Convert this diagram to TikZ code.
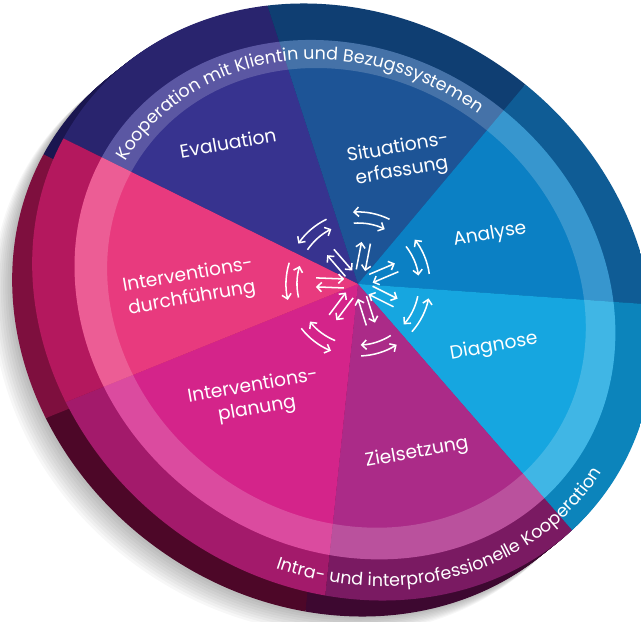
\documentclass[tikz,border=0pt]{standalone}
\usepackage{fontspec}
\setmainfont{Poppins}
\usepackage{tikz}
\usetikzlibrary{arrows.meta,decorations.text,calc}

% segment colours: face, outer ring, side wall
\definecolor{seg1}{HTML}{37338F}
\definecolor{seg2}{HTML}{1D5496}
\definecolor{seg3}{HTML}{0B80C4}
\definecolor{seg4}{HTML}{16A6E0}
\definecolor{seg5}{HTML}{AB2B88}
\definecolor{seg6}{HTML}{D4248A}
\definecolor{seg7}{HTML}{E83A7E}
\definecolor{oseg1}{HTML}{29246E}
\definecolor{oseg2}{HTML}{0F3E72}
\definecolor{oseg3}{HTML}{0F5C95}
\definecolor{oseg4}{HTML}{0C84BB}
\definecolor{oseg5}{HTML}{7A1A62}
\definecolor{oseg6}{HTML}{A31A6B}
\definecolor{oseg7}{HTML}{B4185E}
\definecolor{wseg1}{HTML}{1A1650}
\definecolor{wseg2}{HTML}{0A2D55}
\definecolor{wseg3}{HTML}{0A4A7A}
\definecolor{wseg4}{HTML}{0A6A98}
\definecolor{wseg5}{HTML}{3D0830}
\definecolor{wseg6}{HTML}{4D0728}
\definecolor{wseg7}{HTML}{7E0F3E}

% ring of the tilted disc, #1 = 1 is the rim of the face
\newcommand{\ringat}[1]{({358-15*#1},{284+18*#1}) ellipse [x radius={324.4*#1}, y radius={283.7*#1}, rotate=-36.2]}
% wedge from a centre point between two angles
\newcommand{\wedgeat}[3]{(#1) -- +(#2:900) -- +(#3:900) -- cycle}
\newcommand{\segments}{-153.7/-108/1, -108/-50/2, -50/4/3, 4/49/4, 49/96/5, 96/158/6, 158/206.3/7}

\begin{document}
\begin{tikzpicture}[
  x=0.03cm, y=-0.03cm,
  seglabel/.style={text=white, align=center, font=\fontsize{16}{20}\selectfont, rotate=10},
  arr/.style={white, line width=1.3pt, -{Straight Barb[length=4pt, width=8pt]}}
]
\useasboundingbox (0,0) rectangle (641,622);
\clip (0,0) rectangle (641,622);
\fill[white] (0,0) rectangle (641,622);

% Shadow
\foreach \k in {1,...,10}
  \fill[black, opacity=0.03, shift={({-18-2.2*\k},{14+2*\k})}] \ringat{1};

% Side wall
\foreach \k in {1,...,14} {
  \begin{scope}[shift={({-20*\k/14},{16*\k/14})}]
    \clip \ringat{1};
    \foreach \a/\b/\n in \segments
      \fill[fill=wseg\n] \wedgeat{358,284}{\a}{\b};
  \end{scope}
}

% Face
\coordinate (hub) at (358,284);
\begin{scope}
  \clip \ringat{1};
  \foreach \a/\b/\n in \segments
    \fill[fill=oseg\n] \wedgeat{hub}{\a}{\b};
\end{scope}
\begin{scope}
  \clip \ringat{0.87};
  \foreach \a/\b/\n in \segments
    \fill[fill=seg\n] \wedgeat{hub}{\a}{\b};
\end{scope}
\fill[white, opacity=0.18, even odd rule] \ringat{0.87} \ringat{0.77};

% Ring texts
\path[decorate, decoration={text along path, text align=center,
    text={|\fontsize{15}{15}\selectfont\color{white}|Kooperation mit Klientin und Bezugssystemen}}]
  plot[domain=151:291, samples=60, smooth, variable=\t]
  ({346+209.4*cos(\t)-134.1*sin(\t)}, {298.4+153.3*cos(\t)+183.2*sin(\t)});
\path[decorate, decoration={text along path, text align=center,
    text={|\fontsize{15}{15}\selectfont\color{white}|Intra- und interprofessionelle Kooperation}}]
  plot[domain=-90:25, samples=60, smooth, variable=\t]
  ({343.7+250*cos(\t)+160*sin(\t)}, {301.2+183*cos(\t)-218.6*sin(\t)});

% Segment labels
\node[seglabel] (eval) at (228,143) {Evaluation};
\node[seglabel] (situ) at (400,160) {Situations-\\erfassung};
\node[seglabel] (anal) at (490,235) {Analyse};
\node[seglabel] (diag) at (494,347) {Diagnose};
\node[seglabel] (ziel) at (417,453) {Zielsetzung};
\node[seglabel] (plan) at (255,398) {Interventions-\\planung};
\node[seglabel] (durc) at (190,287) {Interventions-\\durchführung};

% Arrow pairs round the hub
\foreach \m in {-130.9,-79,-23,26.5,72.5,127,182.2} {
  \begin{scope}[shift={(hub)}, rotate={-1*(\m)}]
    \draw[arr] (-15:61) arc[start angle=-15, end angle=15, radius=61];
    \draw[arr] (15:72) arc[start angle=15, end angle=-15, radius=72];
    \draw[arr] (14,-4.5) -- (42,-4.5);
    \draw[arr] (42,4.5) -- (14,4.5);
  \end{scope}
}
\end{tikzpicture}
\end{document}
